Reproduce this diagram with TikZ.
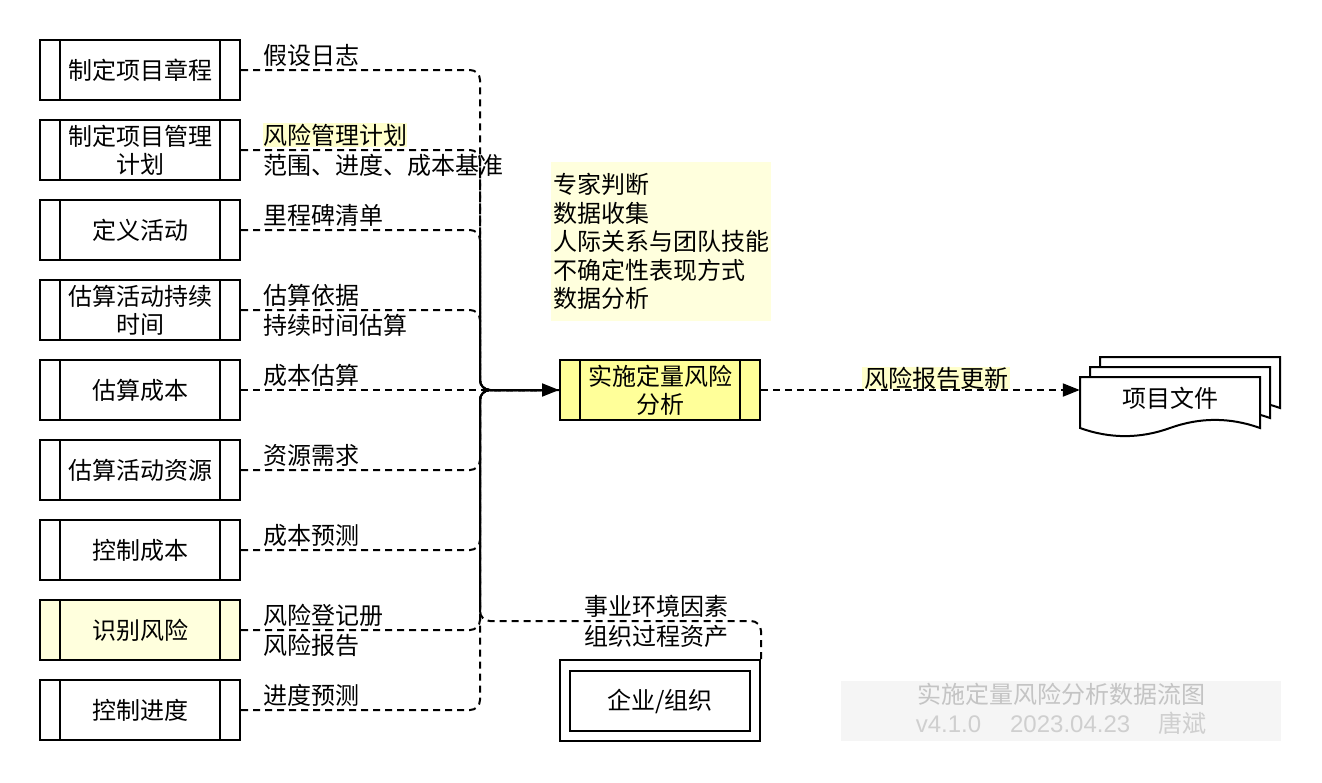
\documentclass[tikz,border=0pt]{standalone}
\usepackage{fontspec}
\setmainfont{Noto Sans CJK SC}
\newfontfamily\latinfont{Liberation Sans}
\usetikzlibrary{arrows.meta}
\definecolor{procyellow}{HTML}{FFFF99}
\definecolor{paleyellow}{HTML}{FFFFDD}
\definecolor{hiyellow}{HTML}{FFFFCC}
\definecolor{wmbg}{HTML}{F5F5F5}
\definecolor{wmtexta}{HTML}{C4C4C4}
\definecolor{wmtextb}{HTML}{CFCFCF}
\tikzset{
  proc/.style={draw, line width=2pt, minimum width=200pt, minimum height=60pt,
    align=center, inner sep=0pt, font=\fontsize{24}{28}\selectfont,
    path picture={\draw[line width=2pt]
      ([xshift=20pt]path picture bounding box.north west) -- ([xshift=20pt]path picture bounding box.south west)
      ([xshift=-20pt]path picture bounding box.north east) -- ([xshift=-20pt]path picture bounding box.south east);}},
  elabel/.style={anchor=west, inner sep=0pt, align=left, font=\fontsize{24}{30}\selectfont},
  flow/.style={line width=2pt, dash pattern=on 7pt off 5pt, rounded corners=10pt},
  solidflow/.style={line width=2pt, rounded corners=10pt},
  tipped/.style={-{Triangle[length=17pt,width=13pt]}},
  intomain/.style={shorten >=16pt},
  docsheet/.pic={\filldraw[fill=white, line width=2pt] (0,0) -- (180,0) -- (180,51)
     .. controls (150,40.2) and (120,40.2) .. (90,51)
     .. controls (60,61.8) and (30,61.8) .. (0,51) -- cycle;}
}
\begin{document}
\begin{tikzpicture}[x=1pt,y=-1pt]
\fill[white] (0,0) rectangle (1322,782);
\useasboundingbox (0,0) rectangle (1322,782);

% left process boxes
\node[proc] (b1) at (140,70) {制定项目章程};
\node[proc] (b2) at (140,150) {制定项目管理\\计划};
\node[proc] (b3) at (140,230) {定义活动};
\node[proc] (b4) at (140,310) {估算活动持续\\时间};
\node[proc] (b5) at (140,390) {估算成本};
\node[proc] (b6) at (140,470) {估算活动资源};
\node[proc] (b7) at (140,550) {控制成本};
\node[proc, fill=paleyellow] (b8) at (140,630) {识别风险};
\node[proc] (b9) at (140,710) {控制进度};

% central process
\node[proc, fill=procyellow] (main) at (660,390) {实施定量风险\\分析};

% tools note
\node[fill=paleyellow, minimum width=220pt, minimum height=159pt, text width=216pt,
      align=left, inner sep=2pt, font=\fontsize{24}{28.4}\selectfont] (tools) at (661,241.5)
  {专家判断\\数据收集\\人际关系与团队技能\\不确定性表现方式\\数据分析};

% enterprise
\node[draw, line width=2pt, minimum width=200pt, minimum height=81pt] (ent) at (660,700.5) {};
\node[draw, line width=2pt, minimum width=180pt, minimum height=60pt, font=\fontsize{24}{28}\selectfont] (entin) at (660,701) {企业/组织};

% documents
\pic at (1100,357) {docsheet};
\pic at (1090,367) {docsheet};
\pic at (1080,377) {docsheet};
\node[minimum width=180pt, minimum height=42pt, inner sep=0pt, font=\fontsize{24}{28}\selectfont] (docf) at (1170,398) {项目文件};

% watermark
\node[fill=wmbg, minimum width=440pt, minimum height=60pt] (wm) at (1061,711) {};
\node[align=center, inner sep=0pt, font=\fontsize{24}{29}\selectfont] (wmtext) at (1061,709)
  {\textcolor{wmtexta}{实施定量风险分析数据流图}\\
   \textcolor{wmtextb}{{\latinfont v4.1.0\hspace{29pt}2023.04.23}\hspace{28pt}唐斌}};

% join coordinates
\coordinate (jn) at (480,390);
\coordinate (ej) at (480,621);
\coordinate (st) at (480,240);
\coordinate (sb) at (480,610);

% dashed inputs
\draw[flow, intomain] (b1.east) -| (jn) -- (main.west);
\draw[flow, intomain] (b2.east) -| (jn) -- (main.west);
\draw[flow, intomain] (b3.east) -| (jn) -- (main.west);
\draw[flow, intomain] (b4.east) -| (jn) -- (main.west);
\draw[flow, intomain] (b5.east) -- (main.west);
\draw[flow, intomain] (b6.east) -| (jn) -- (main.west);
\draw[flow, intomain] (b7.east) -| (jn) -- (main.west);
\draw[flow, intomain] (b8.east) -| (jn) -- (main.west);
\draw[flow, intomain] (b9.east) -| (jn) -- (main.west);
\draw[flow, intomain] (ent.north east) |- (ej) -- (jn) -- (main.west);

% solid merged trunk
\draw[solidflow, tipped] (st) |- (main.west);
\draw[solidflow] (sb) |- (main.west);

% output
\draw[flow, tipped] (main.east) -- (main.east -| docf.west);
\node[fill=hiyellow, inner xsep=2pt, inner ysep=0pt, font=\fontsize{24}{28}\selectfont] (lout) at (936,378) {风险报告更新};

% edge labels
\node[elabel] (l1) at (263,55) {假设日志};
\node[elabel, fill=hiyellow, inner ysep=1pt] (l2a) at (263,135) {风险管理计划};
\node[elabel] (l2b) at (263,165) {范围、进度、成本基准};
\node[elabel] (l3) at (263,215) {里程碑清单};
\node[elabel] (l4) at (263,310) {估算依据\\持续时间估算};
\node[elabel] (l5) at (263,375) {成本估算};
\node[elabel] (l6) at (263,455) {资源需求};
\node[elabel] (l7) at (263,535) {成本预测};
\node[elabel] (l8) at (263,630) {风险登记册\\风险报告};
\node[elabel] (l9) at (263,695) {进度预测};
\node[align=center, inner sep=0pt, font=\fontsize{24}{30}\selectfont] (lent) at (656,621) {事业环境因素\\组织过程资产};
\end{tikzpicture}
\end{document}
